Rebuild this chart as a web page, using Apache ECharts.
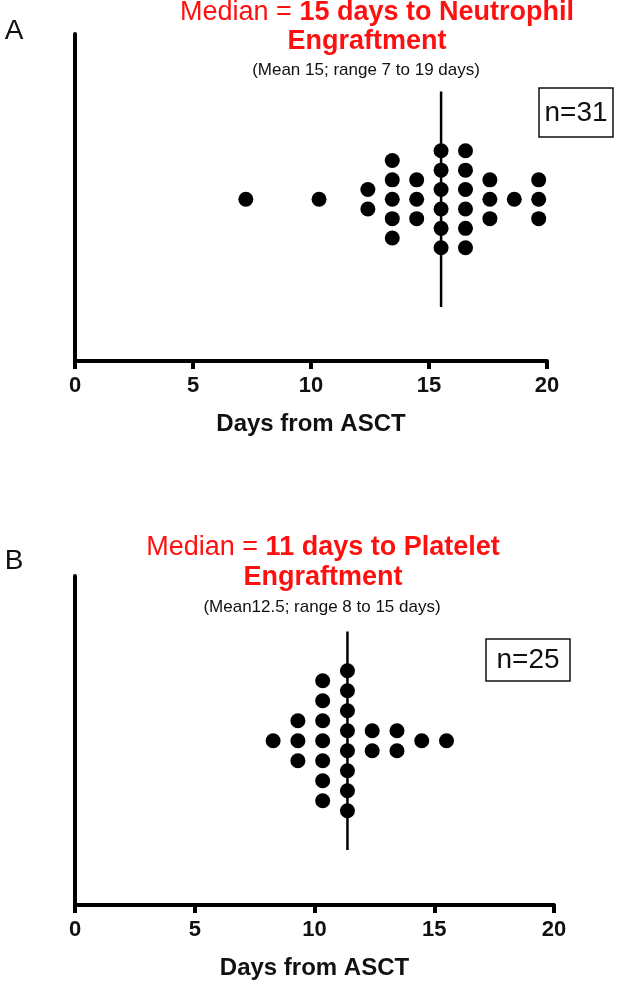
<!DOCTYPE html>
<html>
<head>
<meta charset="utf-8">
<script src="https://cdn.jsdelivr.net/npm/echarts@6/dist/echarts.min.js"></script>
<style>
html,body{margin:0;padding:0;background:#fff;}
#c{width:624px;height:985px;}
</style>
</head>
<body>
<div id="c"></div>
<script>
// ---- data ----
const xTicks = [0, 5, 10, 15, 20];
const daysA = [7, 10, 12, 13, 14, 15, 16, 17, 18, 19];
const countsA = [1, 1, 2, 5, 3, 6, 6, 3, 1, 3];
const medianA = 15;
const nA = 31;
const daysB = [8, 9, 10, 11, 12, 13, 14, 15];
const countsB = [1, 3, 7, 8, 2, 2, 1, 1];
const medianB = 11;
const nB = 25;
const xTitle = 'Days from ASCT';

// dot-plot layout: stack dots of equal value symmetrically around centre row
function swarm(days, counts) {
  const pts = [];
  days.forEach((d, j) => {
    const k = counts[j];
    for (let i = 0; i < k; i++) pts.push([d, i - (k - 1) / 2]);
  });
  return pts;
}

const FONT = '"Liberation Sans", Arial, sans-serif';
const RED = '#ff1010';
const chart = echarts.init(document.getElementById('c'), null, {renderer: 'canvas'});

function visAxis(grid) {
  return {
    type: 'value', gridIndex: grid, min: xTicks[0], max: xTicks[xTicks.length - 1], interval: 5,
    axisLine: {show: true, onZero: false, lineStyle: {color: '#000', width: 4}},
    axisTick: {show: true, length: 8, lineStyle: {color: '#000', width: 4}},
    axisLabel: {color: '#111', fontSize: 22, fontWeight: 'bold', fontFamily: FONT, margin: 14},
    splitLine: {show: false},
    name: xTitle, nameLocation: 'middle', nameGap: 51,
    nameTextStyle: {color: '#111', fontSize: 24, fontWeight: 'bold', fontFamily: FONT}
  };
}
function hidAxis(grid, max) {
  return {type: 'value', gridIndex: grid, min: 0, max: max, show: false,
    axisLine: {show: false}, axisTick: {show: false}, axisLabel: {show: false}, splitLine: {show: false}};
}
function yAx(grid, min, max) {
  return {type: 'value', gridIndex: grid, min: min, max: max,
    axisLine: {show: true, onZero: false, lineStyle: {color: '#000', width: 4}},
    axisTick: {show: false}, axisLabel: {show: false}, splitLine: {show: false}};
}
function titleLine(x, y, median, rest) {
  return {type: 'text', x: x, y: y, style: {
    text: '{r|Median = }{b|' + median + rest + '}', align: 'center', verticalAlign: 'middle',
    rich: {r: {fontSize: 27, fontFamily: FONT, fill: RED}, b: {fontSize: 27, fontWeight: 'bold', fontFamily: FONT, fill: RED}}}};
}
function plain(x, y, text, font, color) {
  return {type: 'text', x: x, y: y, style: {text: text, font: font, fill: color, align: 'center', verticalAlign: 'middle'}};
}

const option = {
  animation: false,
  backgroundColor: '#fff',
  grid: [
    {left: 75, top: 34, width: 472, height: 327},
    {left: 75, top: 576, width: 479, height: 329}
  ],
  xAxis: [visAxis(0), hidAxis(0, 19.34), visAxis(1), hidAxis(1, 19.34)],
  yAxis: [yAx(0, -8.34, 8.52), yAx(1, -8.21, 8.24)],
  series: [
    {type: 'scatter', xAxisIndex: 1, yAxisIndex: 0, data: swarm(daysA, countsA),
     symbol: 'circle', symbolSize: 15, itemStyle: {color: '#000', opacity: 1}},
    {type: 'line', xAxisIndex: 1, yAxisIndex: 0, data: [[medianA, -5.55], [medianA, 5.55]],
     symbol: 'none', lineStyle: {color: '#000', width: 2.5}},
    {type: 'scatter', xAxisIndex: 3, yAxisIndex: 1, data: swarm(daysB, countsB),
     symbol: 'circle', symbolSize: 15, itemStyle: {color: '#000', opacity: 1}},
    {type: 'line', xAxisIndex: 3, yAxisIndex: 1, data: [[medianB, -5.46], [medianB, 5.46]],
     symbol: 'none', lineStyle: {color: '#000', width: 2.5}}
  ],
  graphic: [
    plain(14, 31, 'A', '28px ' + FONT, '#111'),
    plain(14, 561, 'B', '28px ' + FONT, '#111'),
    titleLine(377, 13, medianA, ' days to Neutrophil'),
    plain(367, 42, 'Engraftment', 'bold 27px ' + FONT, RED),
    plain(366, 70, '(Mean 15; range 7 to 19 days)', '17px ' + FONT, '#111'),
    titleLine(323, 548, medianB, ' days to Platelet'),
    plain(323, 578, 'Engraftment', 'bold 27px ' + FONT, RED),
    plain(322, 607, '(Mean12.5; range 8 to 15 days)', '17px ' + FONT, '#111'),
    {type: 'rect', shape: {x: 539, y: 88, width: 74, height: 49}, style: {fill: '#fff', stroke: '#111', lineWidth: 1.5}},
    plain(576, 113, 'n=' + nA, '28px ' + FONT, '#111'),
    {type: 'rect', shape: {x: 486, y: 639, width: 84, height: 42}, style: {fill: '#fff', stroke: '#111', lineWidth: 1.5}},
    plain(528, 660, 'n=' + nB, '28px ' + FONT, '#111')
  ]
};
chart.setOption(option);
</script>
</body>
</html>
